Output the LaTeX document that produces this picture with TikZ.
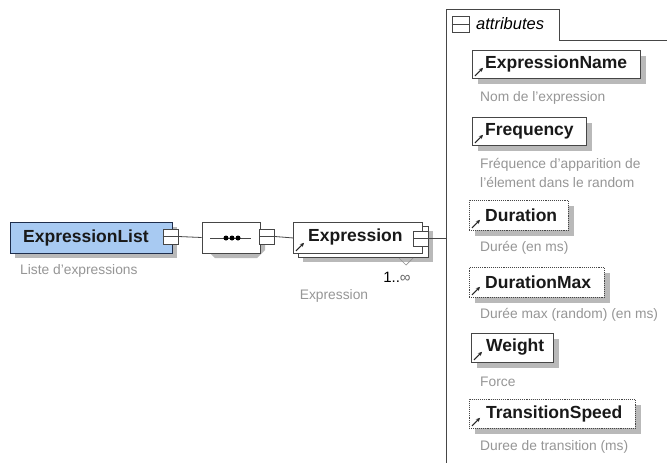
\documentclass[tikz,border=0pt]{standalone}
\usepackage{fontspec}
\setmainfont{Liberation Sans}
\usetikzlibrary{arrows.meta,shapes.misc}
\definecolor{elblue}{RGB}{168,202,242}
\definecolor{navy}{RGB}{30,45,75}
\definecolor{descgray}{RGB}{150,150,150}
\definecolor{shadowgray}{RGB}{185,185,185}
\definecolor{framegray}{RGB}{70,70,70}
\tikzset{
  attrbox/.style={draw=framegray,fill=white,line width=0.9pt,anchor=north west,inner sep=0pt},
  optbox/.style={attrbox,densely dotted},
  nametext/.style={font=\fontsize{17.5}{20}\selectfont\bfseries,anchor=west,inner sep=0pt,text=black!90},
  desctext/.style={font=\fontsize{13.8}{16}\selectfont,anchor=west,inner sep=0pt,text=descgray},
  sq/.style={draw=framegray,fill=white,line width=0.8pt,minimum width=15pt,minimum height=15pt,inner sep=0pt},
  conn/.style={draw=framegray,line width=0.8pt},
  refarrow/.style={draw=black!85,line width=1pt,-{Stealth[length=4pt,width=4pt]}},
  shadowfill/.style={fill=shadowgray,draw=none},
}
\begin{document}
\begin{tikzpicture}[x=1pt,y=-1pt]
\fill[white] (0,0) rectangle (667,463);
\useasboundingbox (0,0) rectangle (667,463);

% shadows (drawn first, behind the boxes)
\fill[shadowfill] (15,227) rectangle (177,258);
\fill[shadowfill] (215,227) -- (257,227) -- (265,235) -- (265,250) -- (257,258) -- (215,258) -- (207,250) -- (207,235) -- cycle;
\fill[shadowfill] (303,231) rectangle (433,262);
\fill[shadowfill] (478,56) rectangle (646,84);
\fill[shadowfill] (478,123) rectangle (592,151);
\fill[shadowfill] (475,206) rectangle (574,236);
\fill[shadowfill] (475,273) rectangle (610,303);
\fill[shadowfill] (477,339) rectangle (559,368);
\fill[shadowfill] (475,405) rectangle (641,434);

% ExpressionList
\node[draw=navy,fill=elblue,line width=1pt,anchor=north west,inner sep=0pt,
  minimum width=162pt,minimum height=31pt] (el) at (10,222) {};
\node[nametext] (elt) at (23,237.5) {ExpressionList};
\node[desctext] (eld) at (20,271) {Liste d'expressions};
\node[sq] (elsq) at (170.5,236.5) {};
\draw[conn] (elsq.west) -- (elsq.east);

% sequence
\node[chamfered rectangle,chamfered rectangle xsep=8pt,chamfered rectangle ysep=8pt,
  draw=framegray,fill=white,line width=0.9pt,minimum width=58pt,minimum height=31pt,
  inner sep=0pt] (seq) at (231,237.5) {};
\coordinate (seql) at (210,238);
\coordinate (seqr) at (251,238);
\draw[conn] (seql) -- (seqr);
\foreach \dx in {226,232,238}{\fill[black] (\dx,238) circle (2.5pt);}
\node[sq] (seqsq) at (267,236.5) {};
\draw[conn] (seqsq.west) -- (seqsq.east);

% Expression (multiple)
\node[draw=framegray,fill=white,line width=0.9pt,anchor=north west,inner sep=0pt,
  minimum width=130pt,minimum height=31pt] (exback) at (298,226) {};
\node[draw=framegray,fill=white,line width=0.9pt,anchor=north west,inner sep=0pt,
  minimum width=129pt,minimum height=31pt] (ex) at (293,222) {};
\node[nametext] (ext) at (308,237) {Expression};
\draw[refarrow] ([shift={(3,-3)}]ex.south west) -- ([shift={(11,-11)}]ex.south west);
\node[sq] (exsq) at (421,238.5) {};
\draw[conn] (exsq.west) -- (exsq.east);
\coordinate (va) at (399,258);
\coordinate (vb) at (406,265);
\coordinate (vc) at (413,258);
\draw[shadowgray!80!black,line width=0.7pt] (va) -- (vb) -- (vc);
\node[font=\fontsize{15}{17}\selectfont,inner sep=0pt] (mult) at (397,277) {1..{\color{black!60}∞}};
\node[desctext,anchor=center] (exd) at (334,296) {Expression};

% connectors
\coordinate (attrin) at (446,238.5);
\draw[conn] (elsq.east) -- (seq.west);
\draw[conn] (seqsq.east) -- (ex.west);
\draw[conn] (exsq.east) -- (attrin);

% attributes frame
\coordinate (fa) at (446,470);
\coordinate (fb) at (446,9);
\coordinate (fc) at (559,9);
\coordinate (fd) at (559,40);
\coordinate (fe) at (670,40);
\draw[framegray,line width=1pt] (fa) -- (fb) -- (fc) -- (fd) -- (fe);
\node[draw=framegray,line width=0.8pt,minimum width=17pt,minimum height=16pt,inner sep=0pt] (tabsq) at (460.5,24) {};
\draw[framegray,line width=0.8pt] (tabsq.west) -- (tabsq.east);
\node[font=\fontsize{16.5}{19}\selectfont\itshape,anchor=west,inner sep=0pt] (tabt) at (476,24) {attributes};

% attribute boxes
\node[attrbox,minimum width=168pt,minimum height=28pt] (a1) at (472,50) {};
\node[nametext] (a1t) at (485,64) {ExpressionName};
\draw[refarrow] ([shift={(3,-3)}]a1.south west) -- ([shift={(11,-11)}]a1.south west);
\node[desctext] (a1d) at (480,98) {Nom de l'expression};

\node[attrbox,minimum width=114pt,minimum height=28pt] (a2) at (472,117) {};
\node[nametext] (a2t) at (485,131) {Frequency};
\draw[refarrow] ([shift={(3,-3)}]a2.south west) -- ([shift={(11,-11)}]a2.south west);
\node[desctext] (a2d) at (480,165) {Fréquence d'apparition de};
\node[desctext] (a2e) at (480,182) {l'élement dans le random};

\node[optbox,minimum width=99pt,minimum height=30pt] (a3) at (469,200) {};
\node[nametext] (a3t) at (485,215) {Duration};
\draw[refarrow] ([shift={(3,-3)}]a3.south west) -- ([shift={(11,-11)}]a3.south west);
\node[desctext] (a3d) at (480,248) {Durée (en ms)};

\node[optbox,minimum width=135pt,minimum height=30pt] (a4) at (469,267) {};
\node[nametext] (a4t) at (485,282) {DurationMax};
\draw[refarrow] ([shift={(3,-3)}]a4.south west) -- ([shift={(11,-11)}]a4.south west);
\node[desctext] (a4d) at (480,315) {Durée max (random) (en ms)};

\node[attrbox,minimum width=82pt,minimum height=29pt] (a5) at (471,333) {};
\node[nametext] (a5t) at (486,347.5) {Weight};
\draw[refarrow] ([shift={(3,-3)}]a5.south west) -- ([shift={(11,-11)}]a5.south west);
\node[desctext] (a5d) at (480,382) {Force};

\node[optbox,minimum width=166pt,minimum height=29pt] (a6) at (469,399) {};
\node[nametext] (a6t) at (486,413.5) {TransitionSpeed};
\draw[refarrow] ([shift={(3,-3)}]a6.south west) -- ([shift={(11,-11)}]a6.south west);
\node[desctext] (a6d) at (480,447) {Duree de transition (ms)};
\end{tikzpicture}
\end{document}
